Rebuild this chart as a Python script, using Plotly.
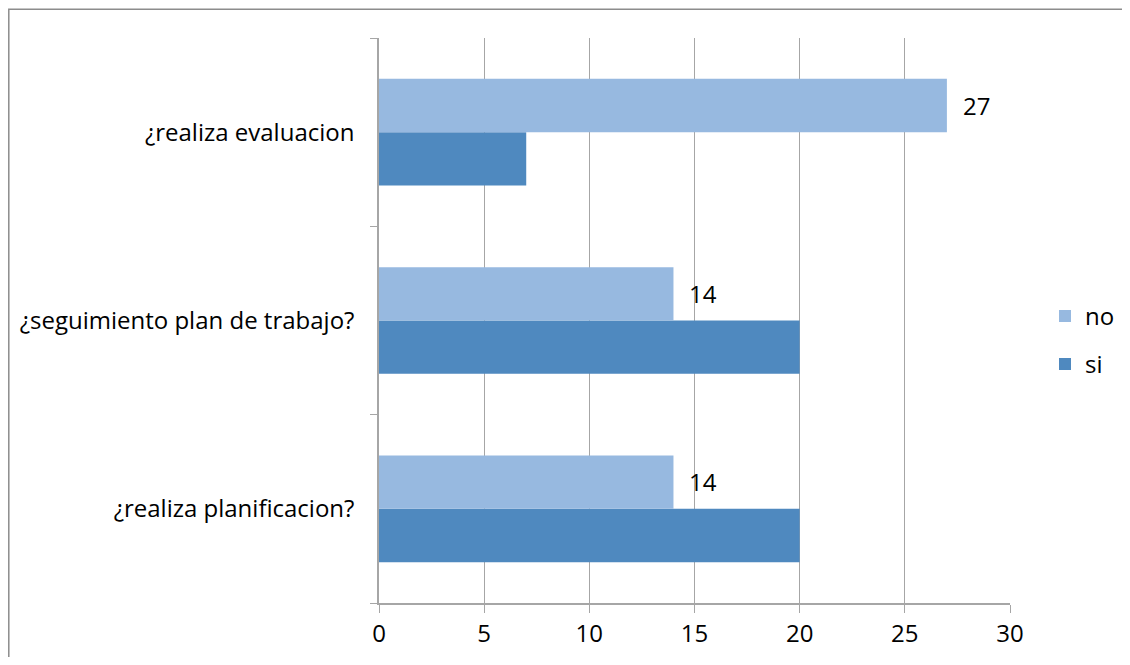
import plotly.graph_objects as go

categories = ["¿realiza planificacion?", "¿seguimiento plan de trabajo?", "¿realiza evaluacion"]
no_values = [14, 14, 27]
si_values = [20, 20, 7]
x_ticks = [0, 5, 10, 15, 20, 25, 30]

FONT = "Open Sans"
FS = 24
fig = go.Figure()
fig.add_trace(go.Bar(y=categories, x=si_values, name="si", orientation="h",
                     marker=dict(color="#4F89BF", line=dict(width=0)), legendgroup="si",
                     legendrank=2))
fig.add_trace(go.Bar(y=categories, x=no_values, name="no", orientation="h",
                     marker=dict(color="#97B9E0", line=dict(width=0)), legendgroup="no",
                     legendrank=1))

for c, v in zip(categories, no_values):
    fig.add_annotation(x=v, y=c, text=str(v), showarrow=False, xanchor="left",
                       xshift=14, yshift=27, font=dict(size=FS, color="#000000", family=FONT))

# page has an 8px body margin; compensate so the figure fills the window exactly
OFF = 8
W, H = 1130 - 2 * OFF, 665 - 2 * OFF
L, R, T, B = 379 - OFF, W - (1010 - OFF), 38 - OFF, H - (603 - OFF)
pw, ph = W - L - R, H - T - B
fig.add_shape(type="rect", xref="paper", yref="paper",
              x0=(0.8 - L) / pw, x1=(W + 20 - L) / pw,
              y0=(H - B - H - 20) / ph, y1=(H - B - 1.2) / ph,
              line=dict(color="#8C8C8C", width=1.5), fillcolor="rgba(0,0,0,0)", layer="below")

fig.update_layout(
    width=W, height=H, margin=dict(l=L, r=R, t=T, b=B, autoexpand=False),
    paper_bgcolor="white", plot_bgcolor="white",
    barmode="group", bargap=0.434, bargroupgap=0,
    font=dict(family=FONT, size=FS, color="#000000"),
    legend=dict(traceorder="grouped", x=(1037 - L) / pw, y=0.465, yanchor="middle",
                xanchor="left", font=dict(size=FS), tracegroupgap=14, itemwidth=30),
    showlegend=True,
)
fig.update_xaxes(range=[0, 30], tickvals=x_ticks, showgrid=True, gridcolor="#A6A6A6", gridwidth=1,
                 showline=True, linecolor="#A6A6A6", linewidth=1.5, ticks="outside", ticklen=8,
                 tickcolor="#A6A6A6", zeroline=False, tickfont=dict(size=FS))
fig.update_yaxes(categoryorder="array", categoryarray=categories, showline=True, linecolor="#A6A6A6",
                 linewidth=1.5, ticks="outside", ticklen=7, tickcolor="#A6A6A6", tickson="boundaries",
                 ticklabelstandoff=18, tickfont=dict(size=FS), showgrid=False)

fig.write_html("out.html")
